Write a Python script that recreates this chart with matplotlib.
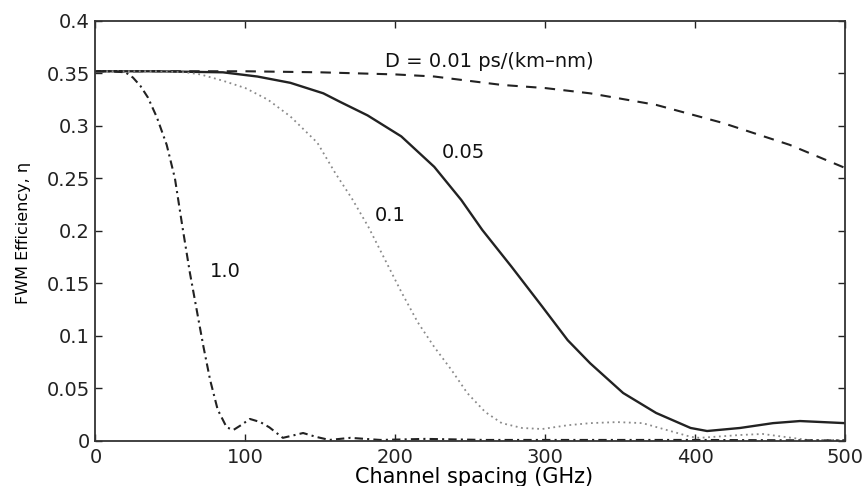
"""FWM efficiency vs channel spacing for several dispersion values."""
import matplotlib
matplotlib.use("Agg")
import matplotlib.pyplot as plt

# values
d001_x = [0, 50, 100, 150, 200, 226, 271, 300, 330, 374, 418, 463, 500]
d001_y = [0.352, 0.352, 0.352, 0.351, 0.349, 0.347, 0.339, 0.336, 0.331,
          0.320, 0.303, 0.282, 0.260]

d005_x = [0, 40, 85, 108, 130, 152, 163, 181.5, 204, 226, 244, 258, 277.5,
          298, 315, 330, 352, 374, 397, 408, 430, 452, 470, 500]
d005_y = [0.352, 0.352, 0.351, 0.347, 0.341, 0.331, 0.323, 0.310, 0.290,
          0.261, 0.2295, 0.201, 0.166, 0.128, 0.096, 0.074, 0.0457, 0.0267,
          0.0124, 0.0095, 0.0124, 0.017, 0.019, 0.017]

d01_x = [0, 40, 60, 70, 85, 100, 115, 130, 148, 160, 171, 182, 193, 204, 215,
         226, 237.5, 248, 260, 271, 284.5, 298, 315, 330, 348, 365, 381, 397,
         403, 430, 445, 475, 500]
d01_y = [0.352, 0.352, 0.351, 0.349, 0.343, 0.336, 0.325, 0.309, 0.284, 0.255,
         0.231, 0.204, 0.173, 0.142, 0.113, 0.0895, 0.0676, 0.0457, 0.0276,
         0.017, 0.0124, 0.0114, 0.015, 0.017, 0.018, 0.017, 0.0105, 0.004,
         0.003, 0.0057, 0.0067, 0.001, 0.001]

d1_x = [0, 10, 20, 25, 30, 35, 41, 47.5, 53, 58, 63, 67.5, 72, 76.5, 81.5,
        87.5, 92, 97, 103, 110, 116, 125, 131, 138.5, 147, 156, 170, 190, 220,
        260, 300, 400, 500]
d1_y = [0.352, 0.352, 0.351, 0.346, 0.338, 0.327, 0.308, 0.282, 0.250, 0.204,
        0.160, 0.125, 0.090, 0.058, 0.030, 0.013, 0.0105, 0.015, 0.021, 0.018,
        0.013, 0.003, 0.005, 0.0076, 0.004, 0.001, 0.003, 0.001, 0.002, 0.001,
        0.001, 0.001, 0.0005]

labels = ["D = 0.01 ps/(km\u2013nm)", "0.05", "0.1", "1.0"]
label_pos = [(193, 0.361), (231, 0.275), (186, 0.215), (76, 0.161)]

plt.rcParams["font.family"] = ["DejaVu Sans"]

fig = plt.figure(figsize=(8.64, 4.86), dpi=100)
ax = fig.add_axes([0.1105, 0.0926, 0.8675, 0.8645])

ink = "#222222"
ax.plot(d001_x, d001_y, color=ink, lw=1.5, dashes=(5, 4))
ax.plot(d005_x, d005_y, color=ink, lw=1.7)
ax.plot(d01_x, d01_y, color="#8a8a8a", lw=1.3, dashes=(1, 2))
ax.plot(d1_x, d1_y, color=ink, lw=1.5, dashes=(4, 2, 1, 2))

for txt, (x, y) in zip(labels, label_pos):
    ax.text(x, y, txt, fontsize=14, ha="left", va="center", color="#111111")

ax.set_xlim(0, 500)
ax.set_ylim(0, 0.4)
ax.set_xticks([0, 100, 200, 300, 400, 500])
ax.set_yticks([0, 0.05, 0.1, 0.15, 0.2, 0.25, 0.3, 0.35, 0.4])
ax.set_yticklabels(["0", "0.05", "0.1", "0.15", "0.2", "0.25", "0.3", "0.35", "0.4"])
ax.tick_params(direction="in", top=True, right=True, length=5, width=1,
               labelsize=14, colors="#222222")
ax.tick_params(axis="x", pad=5)
ax.tick_params(axis="y", pad=4)
for s in ax.spines.values():
    s.set_linewidth(1.3)
    s.set_color("#333333")

ax.set_xlabel("Channel spacing (GHz)", fontsize=15)
ax.xaxis.set_label_coords(0.505, -0.062)
ax.set_ylabel("FWM Efficiency, \u03b7", fontsize=11.5)
ax.yaxis.set_label_coords(-0.086, 0.495)

fig.savefig("out.png", dpi=100)
